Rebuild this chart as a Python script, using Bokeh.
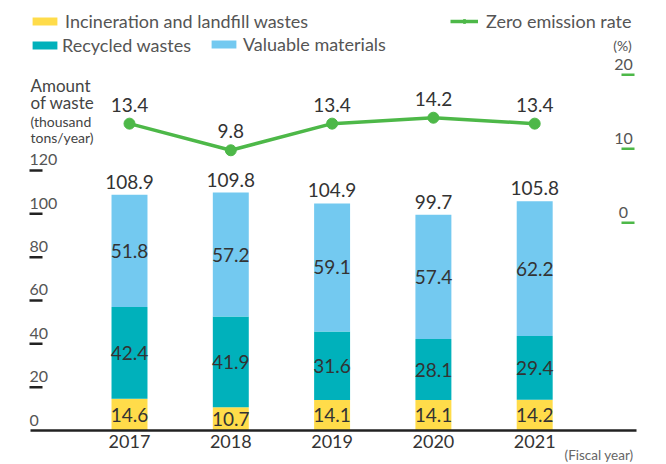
from bokeh.plotting import figure
from bokeh.models import Range1d, ColumnDataSource, Legend, LegendItem
from bokeh.core.properties import value
from bokeh.embed import file_html
from bokeh.resources import INLINE

# ---------------- data ----------------
years = ["2017", "2018", "2019", "2020", "2021"]
incineration = [14.6, 10.7, 14.1, 14.1, 14.2]
recycled = [42.4, 41.9, 31.6, 28.1, 29.4]
valuable = [51.8, 57.2, 59.1, 57.4, 62.2]
totals = [108.9, 109.8, 104.9, 99.7, 105.8]
zero_rate = [13.4, 9.8, 13.4, 14.2, 13.4]
left_ticks = [0, 20, 40, 60, 80, 100, 120]
right_ticks = [0, 10, 20]

# ---------------- layout constants ----------------
W, H = 666, 464
OFF = 0                    # page offset of the canvas
X0, SX = 129.0, 101.3      # px of first category, px per category
Y0, SY = 430.0, 2.1667     # px of left zero, px per unit
R0, RS = 222.3, 7.4        # px of right zero, px per unit

def px(page_x):
    return (page_x - OFF - X0) / SX

def py(page_y):
    return (Y0 - (page_y - OFF)) / SY

FONT = value("Lato")
YELLOW, TEAL, LBLUE, GREEN = "#FFDC4A", "#00B1BB", "#73C9F0", "#4DB848"
DARK = "#333333"
GREY = "#555555"

p = figure(width=W, height=H, output_backend="svg", toolbar_location=None,
           x_range=Range1d(-X0 / SX, (W - X0) / SX),
           y_range=Range1d(-(H - Y0) / SY, Y0 / SY),
           x_axis_location=None, y_axis_location=None, min_border=0)
p.extra_y_ranges = {"rate": Range1d(-(H - R0) / RS, R0 / RS)}
p.grid.visible = False
p.outline_line_color = None
p.background_fill_color = "white"

idx = list(range(len(years)))
inc_top = incineration
rec_top = [a + b for a, b in zip(incineration, recycled)]
val_top = [a + b + c for a, b, c in zip(incineration, recycled, valuable)]

src = ColumnDataSource(dict(x=idx, inc=incineration, rec=recycled, val=valuable))
bars = p.vbar_stack(["inc", "rec", "val"], x="x", width=0.355, source=src,
                    color=[YELLOW, TEAL, LBLUE], line_color=None)

# segment labels
seg_x = idx * 3
seg_y = ([v / 2 for v in incineration]
         + [a + b / 2 for a, b in zip(inc_top, recycled)]
         + [a + b / 2 for a, b in zip(rec_top, valuable)])
seg_t = [f"{v:.1f}" for v in incineration + recycled + valuable]
p.text(x=seg_x, y=seg_y, text=seg_t, text_align="center", text_baseline="middle",
       text_font=FONT, text_font_size="19px", text_color=DARK)

# total labels
p.text(x=idx, y=val_top, text=[f"{v:.1f}" for v in totals], y_offset=-6,
       text_align="center", text_baseline="bottom",
       text_font=FONT, text_font_size="19px", text_color=DARK)

# axis baseline
p.segment(x0=[px(30)], y0=[0], x1=[px(636)], y1=[0], line_color="#222222", line_width=2.5)

# left ticks and labels
p.segment(x0=[px(29)] * (len(left_ticks) - 1), y0=left_ticks[1:],
          x1=[px(42)] * (len(left_ticks) - 1), y1=left_ticks[1:],
          line_color="#222222", line_width=2.5)
p.text(x=[px(29)] * len(left_ticks), y=left_ticks, text=[str(t) for t in left_ticks],
       y_offset=-5, text_align="left", text_baseline="bottom",
       text_font=FONT, text_font_size="16px", text_color=GREY)

# left axis title
p.text(x=[px(30)] * 2, y=[py(85), py(102)], text=["Amount", "of waste"],
       text_align="left", text_baseline="middle",
       text_font=FONT, text_font_size="17px", text_color="#444444")
p.text(x=[px(30)] * 2, y=[py(121), py(137)], text=["(thousand", "tons/year)"],
       text_align="left", text_baseline="middle",
       text_font=FONT, text_font_size="14px", text_color="#444444")

# right ticks and labels
p.segment(x0=[px(621)] * len(right_ticks), y0=right_ticks,
          x1=[px(634)] * len(right_ticks), y1=right_ticks,
          line_color=GREEN, line_width=2.5, y_range_name="rate")
p.text(x=[px(623)] * len(right_ticks), y=right_ticks, text=[str(t) for t in right_ticks],
       y_offset=-5, text_align="center", text_baseline="bottom",
       text_font=FONT, text_font_size="16px", text_color=GREY, y_range_name="rate")
p.text(x=[px(622)], y=[py(45)], text=["(%)"], text_align="center", text_baseline="middle",
       text_font=FONT, text_font_size="14px", text_color=GREY)

# year labels
p.text(x=idx, y=[0] * len(idx), text=years, y_offset=4,
       text_align="center", text_baseline="top",
       text_font=FONT, text_font_size="18px", text_color=DARK)
p.text(x=[px(633)], y=[py(454)], text=["(Fiscal year)"], text_align="right",
       text_baseline="middle", text_font=FONT, text_font_size="13.5px", text_color="#666666")

# zero emission line
ln = p.line(idx, zero_rate, y_range_name="rate", line_color=GREEN, line_width=3.5)
sc = p.scatter(idx, zero_rate, y_range_name="rate", size=11, color=GREEN)
p.text(x=idx, y=zero_rate, text=[f"{v:.1f}" for v in zero_rate], y_offset=-12,
       text_align="center", text_baseline="bottom", y_range_name="rate",
       text_font=FONT, text_font_size="19px", text_color=DARK)

# legends
ITEM_H = 20

def make_legend(label, renderers, page_x, page_cy, gw, standoff):
    cy = page_cy - OFF
    leg = Legend(items=[LegendItem(label=label, renderers=renderers)],
                 location=(page_x - OFF, H - (cy + ITEM_H / 2)),
                 padding=0, margin=0, spacing=0, border_line_color=None,
                 background_fill_alpha=0, glyph_width=gw, glyph_height=10,
                 label_standoff=standoff, label_height=ITEM_H,
                 label_text_font="Lato", label_text_font_size="18px",
                 label_text_color=GREY, label_text_baseline="middle")
    p.add_layout(leg)

make_legend("Incineration and landfill wastes", [bars[0]], 29, 22, 31, 5)
make_legend("Recycled wastes", [bars[1]], 29, 45.5, 31, 2)
make_legend("Valuable materials", [bars[2]], 208, 45, 31, 4)
make_legend("Zero emission rate", [ln, sc], 450, 22, 28, 8)

open("out.html", "w").write(file_html(p, INLINE))
